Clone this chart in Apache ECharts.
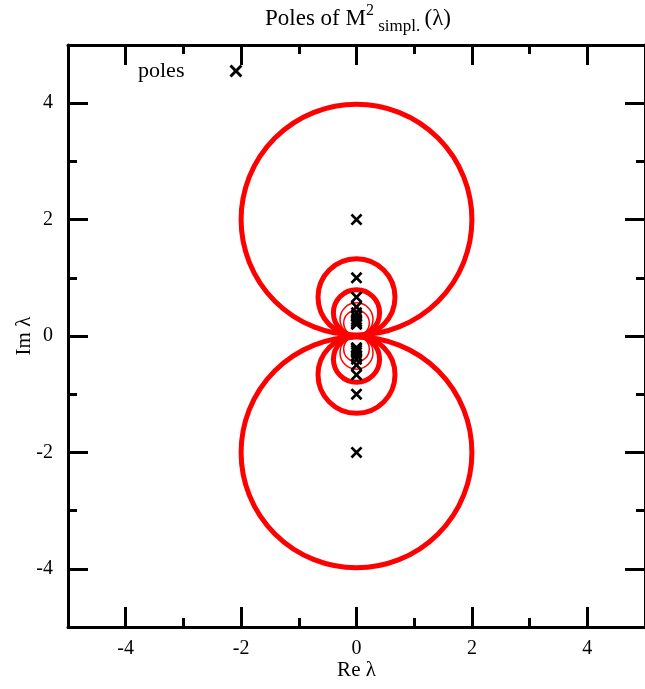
<!DOCTYPE html>
<html>
<head>
<meta charset="utf-8">
<script src="https://cdn.jsdelivr.net/npm/echarts@6/dist/echarts.min.js"></script>
<style>html,body{margin:0;padding:0;background:#fff;}#chart{width:645px;height:689px;}</style>
</head>
<body>
<div id="chart"></div>
<script>
// ---- data ----
const poleRe = [0, 0, 0, 0, 0, 0, 0, 0, 0, 0, 0, 0, 0, 0, 0, 0, 0, 0, 0, 0];
const poleIm = [2, 1, 0.667, 0.5, 0.4, 0.333, 0.286, 0.25, 0.222, 0.2,
                -0.2, -0.222, -0.25, -0.286, -0.333, -0.4, -0.5, -0.667, -1, -2];
// circles: centre (Re, Im) and radius
const thickCircleRe = [0, 0, 0, 0, 0, 0];
const thickCircleIm = [2, 0.667, 0.4, -2, -0.667, -0.4];
const thickCircleR  = [2, 0.667, 0.4, 2, 0.667, 0.4];
const thinCircleRe = [0, 0, 0, 0];
const thinCircleIm = [0.286, 0.222, -0.286, -0.222];
const thinCircleR  = [0.286, 0.222, 0.286, 0.222];
const majorTicks = [-4, -2, 0, 2, 4];
const minorTicks = [-3, -1, 1, 3];
const axisMin = -5, axisMax = 5;

const FONT = '"Liberation Serif", "DejaVu Serif", serif';
const chart = echarts.init(document.getElementById('chart'), null, {renderer: 'canvas'});

function circleData(re, im, r) { return re.map((v, i) => [v, im[i], r[i]]); }
function circleRender(width) {
  return function (params, api) {
    const c = api.coord([api.value(0), api.value(1)]);
    const r = api.size([api.value(2), 0])[0];
    return {type: 'circle', shape: {cx: c[0], cy: c[1], r: r},
            style: {fill: 'none', stroke: '#ff0000', lineWidth: width}};
  };
}
const xPath = 'path://M0,1.6L1.6,0L5,3.4L8.4,0L10,1.6L6.6,5L10,8.4L8.4,10L5,6.6L1.6,10L0,8.4L3.4,5Z';

function mkAxis(dim, pos, withLabel, tickVals, tickLen, showLine, name) {
  const a = {
    type: 'value', position: pos, min: axisMin, max: axisMax, interval: 1,
    axisLine: {show: showLine, onZero: false, lineStyle: {color: '#000', width: 3}},
    axisTick: {show: true, inside: true, length: tickLen, customValues: tickVals,
               lineStyle: {color: '#000', width: 3}},
    axisLabel: {show: withLabel, customValues: majorTicks, color: '#000',
                fontFamily: FONT, fontSize: 20, margin: dim === 'x' ? 12 : 15},
    splitLine: {show: false}
  };
  if (name) {
    a.name = name; a.nameLocation = 'middle';
    a.nameMoveOverlap = false;
    a.nameTextStyle = {color: '#000', fontFamily: FONT, fontSize: 21};
    a.nameGap = dim === 'x' ? 33 : 33;
  }
  return a;
}

const option = {
  backgroundColor: '#fff',
  animation: false,
  grid: {left: 68, top: 45, width: 581, height: 582, containLabel: false},
  graphic: [{
    type: 'text', x: 358, y: 0,
    style: {
      text: '{a|Poles of M}{sup|2}{sub| simpl. }{a|(λ)}',
      align: 'center', verticalAlign: 'top',
      rich: {
        a: {fontFamily: FONT, fontSize: 23, color: '#000', lineHeight: 30, verticalAlign: 'bottom'},
        sup: {fontFamily: FONT, fontSize: 16, color: '#000', lineHeight: 30, verticalAlign: 'top', padding: [3, 0, 0, 0]},
        sub: {fontFamily: FONT, fontSize: 17, color: '#000', lineHeight: 30, verticalAlign: 'bottom', padding: [0, 0, -5, 0]}
      }
    }
  }],
  legend: {
    data: ['poles'], left: 138, top: 60, padding: 0, align: 'right',
    itemWidth: 93, itemHeight: 13, itemGap: 0,
    textStyle: {color: '#000', fontFamily: FONT, fontSize: 22}
  },
  xAxis: [
    mkAxis('x', 'bottom', true, majorTicks, 20, true, 'Re λ'),
    mkAxis('x', 'bottom', false, minorTicks, 9, false),
    mkAxis('x', 'top', false, majorTicks, 20, true),
    mkAxis('x', 'top', false, minorTicks, 9, false)
  ],
  yAxis: [
    mkAxis('y', 'left', true, majorTicks, 20, true, 'Im λ'),
    mkAxis('y', 'left', false, minorTicks, 9, false),
    mkAxis('y', 'right', false, majorTicks, 20, true),
    mkAxis('y', 'right', false, minorTicks, 9, false)
  ],
  series: [
    {type: 'custom', name: 'thick circles', xAxisIndex: 0, yAxisIndex: 0, z: 2,
     renderItem: circleRender(5), data: circleData(thickCircleRe, thickCircleIm, thickCircleR), silent: true},
    {type: 'custom', name: 'thin circles', xAxisIndex: 0, yAxisIndex: 0, z: 2,
     renderItem: circleRender(1.5), data: circleData(thinCircleRe, thinCircleIm, thinCircleR), silent: true},
    {type: 'scatter', name: 'poles', xAxisIndex: 0, yAxisIndex: 0, z: 5,
     symbol: xPath, symbolSize: 12, itemStyle: {color: '#000', opacity: 1},
     data: poleRe.map((v, i) => [v, poleIm[i]])}
  ]
};
chart.setOption(option);
</script>
</body>
</html>
